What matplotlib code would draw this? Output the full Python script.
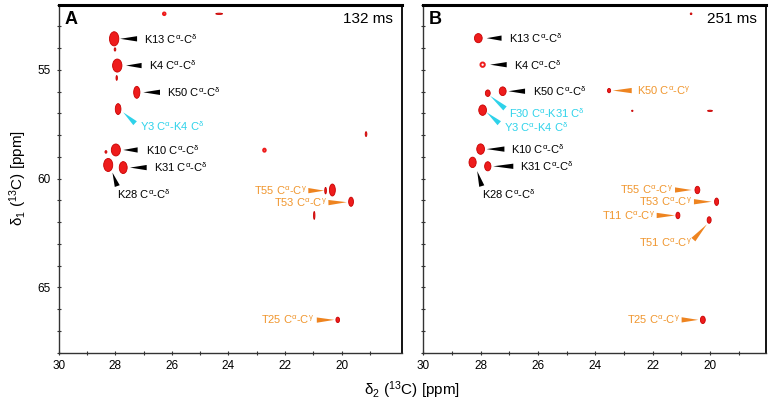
import numpy as np
import matplotlib
matplotlib.use("Agg")
import matplotlib.pyplot as plt
from matplotlib.patches import Ellipse
from matplotlib.ticker import MultipleLocator, FixedLocator

plt.rcParams['font.family'] = ['Liberation Sans', 'DejaVu Sans']
plt.rcParams['mathtext.fontset'] = 'custom'
plt.rcParams['mathtext.rm'] = 'Liberation Sans'
plt.rcParams['mathtext.it'] = 'Liberation Sans:italic'
plt.rcParams['mathtext.default'] = 'regular'

# --- peaks, panel A (132 ms): d2 [ppm], d1 [ppm], linewidths [ppm]
a_x = [28.04, 27.93, 27.24, 27.90, 27.98, 28.25, 27.72, 20.33, 19.67, 20.14,
       28.01, 27.95, 28.33, 26.27, 24.33, 22.73, 19.14, 20.57, 20.97]
a_y = [53.57, 54.80, 56.03, 56.80, 58.68, 59.37, 59.49, 60.52, 61.06, 66.49,
       54.06, 55.37, 58.77, 52.42, 52.42, 58.69, 57.95, 60.55, 61.69]
a_wx = [0.33, 0.33, 0.22, 0.20, 0.32, 0.32, 0.28, 0.21, 0.17, 0.13,
        0.06, 0.05, 0.07, 0.09, 0.24, 0.09, 0.06, 0.06, 0.05]
a_wy = [0.65, 0.60, 0.55, 0.50, 0.55, 0.60, 0.55, 0.55, 0.42, 0.25,
        0.15, 0.22, 0.12, 0.12, 0.06, 0.14, 0.22, 0.30, 0.36]
a_hollow = [13, 15]

# --- peaks, panel B (251 ms)
b_x = [28.08, 27.93, 27.23, 27.75, 27.93, 28.00, 28.28, 27.75, 23.52,
       20.44, 19.77, 21.12, 20.03, 20.25, 20.66, 22.71, 20.00]
b_y = [53.54, 54.76, 55.98, 56.07, 56.85, 58.64, 59.25, 59.43, 55.95,
       60.52, 61.06, 61.69, 61.90, 66.49, 52.42, 56.88, 56.88]
b_wx = [0.27, 0.15, 0.24, 0.17, 0.27, 0.27, 0.25, 0.22, 0.11,
        0.17, 0.14, 0.14, 0.14, 0.17, 0.06, 0.05, 0.17]
b_wy = [0.42, 0.20, 0.40, 0.30, 0.48, 0.48, 0.48, 0.42, 0.20,
        0.34, 0.34, 0.30, 0.30, 0.34, 0.08, 0.06, 0.06]
b_hollow = [1]  # K4 peak drawn as a ring

# --- labels: text, text pos, arrow tail, arrow head, colour key, alignment
a_labels = [
    ("K13 C$^{\\alpha}$-C$^{\\delta}$", 26.97, 53.57, 27.23, 53.57, 27.83, 53.57, "k", "left"),
    ("K4 C$^{\\alpha}$-C$^{\\delta}$", 26.82, 54.80, 27.07, 54.80, 27.62, 54.80, "k", "left"),
    ("K50 C$^{\\alpha}$-C$^{\\delta}$", 26.16, 56.03, 26.42, 56.03, 27.01, 56.03, "k", "left"),
    ("Y3 C$^{\\alpha}$-K4 C$^{\\delta}$", 27.13, 57.60, 27.30, 57.45, 27.72, 56.95, "c", "left"),
    ("K10 C$^{\\alpha}$-C$^{\\delta}$", 26.92, 58.68, 27.21, 58.68, 27.72, 58.68, "k", "left"),
    ("K31 C$^{\\alpha}$-C$^{\\delta}$", 26.62, 59.49, 26.89, 59.49, 27.48, 59.49, "k", "left"),
    ("K28 C$^{\\alpha}$-C$^{\\delta}$", 27.95, 60.69, 27.93, 60.34, 28.10, 59.72, "k", "left"),
    ("T55 C$^{\\alpha}$-C$^{\\gamma}$", 21.24, 60.55, 21.18, 60.55, 20.62, 60.55, "o", "right"),
    ("T53 C$^{\\alpha}$-C$^{\\gamma}$", 20.51, 61.10, 20.47, 61.10, 19.82, 61.08, "o", "right"),
    ("T25 C$^{\\alpha}$-C$^{\\gamma}$", 20.97, 66.50, 20.88, 66.50, 20.26, 66.49, "o", "right"),
]
b_labels = [
    ("K13 C$^{\\alpha}$-C$^{\\delta}$", 27.01, 53.54, 27.27, 53.54, 27.79, 53.54, "k", "left"),
    ("K4 C$^{\\alpha}$-C$^{\\delta}$", 26.84, 54.76, 27.09, 54.76, 27.67, 54.76, "k", "left"),
    ("K50 C$^{\\alpha}$-C$^{\\delta}$", 26.18, 55.98, 26.45, 55.98, 27.03, 55.98, "k", "left"),
    ("K50 C$^{\\alpha}$-C$^{\\gamma}$", 22.54, 55.95, 22.73, 55.95, 23.39, 55.95, "o", "left"),
    ("F30 C$^{\\alpha}$-K31 C$^{\\delta}$", 27.00, 56.98, 27.15, 56.77, 27.67, 56.19, "c", "left"),
    ("Y3 C$^{\\alpha}$-K4 C$^{\\delta}$", 27.19, 57.65, 27.35, 57.45, 27.79, 56.95, "c", "left"),
    ("K10 C$^{\\alpha}$-C$^{\\delta}$", 26.95, 58.64, 27.17, 58.64, 27.79, 58.64, "k", "left"),
    ("K31 C$^{\\alpha}$-C$^{\\delta}$", 26.63, 59.43, 26.86, 59.43, 27.56, 59.43, "k", "left"),
    ("K28 C$^{\\alpha}$-C$^{\\delta}$", 27.96, 60.69, 27.96, 60.34, 28.12, 59.65, "k", "left"),
    ("T55 C$^{\\alpha}$-C$^{\\gamma}$", 21.28, 60.52, 21.22, 60.52, 20.64, 60.52, "o", "right"),
    ("T53 C$^{\\alpha}$-C$^{\\gamma}$", 20.62, 61.06, 20.56, 61.06, 19.94, 61.06, "o", "right"),
    ("T11 C$^{\\alpha}$-C$^{\\gamma}$", 21.92, 61.69, 21.86, 61.69, 21.22, 61.69, "o", "right"),
    ("T51 C$^{\\alpha}$-C$^{\\gamma}$", 20.64, 62.95, 20.58, 62.80, 20.11, 62.10, "o", "right"),
    ("T25 C$^{\\alpha}$-C$^{\\gamma}$", 21.05, 66.49, 20.99, 66.49, 20.41, 66.49, "o", "right"),
]

text_col = {"k": "black", "c": "#2ed2ea", "o": "#f0962e"}
arrow_col = {"k": "black", "c": "#2ed2ea", "o": "#ee8420"}
peak_red = "#ee1c1c"

fig = plt.figure(figsize=(7.70, 4.01), dpi=100)
axA = fig.add_axes([0.0762, 0.1204, 0.4455, 0.868])
axB = fig.add_axes([0.5497, 0.1204, 0.445, 0.868])


def draw_panel(ax, px, py, wx, wy, labels, tag, mix, xmax, hollow=()):
    for i in range(len(px)):
        if i in hollow:
            e = Ellipse((px[i], py[i]), wx[i], wy[i], facecolor="white",
                        edgecolor=peak_red, lw=1.4, zorder=3)
        else:
            e = Ellipse((px[i], py[i]), wx[i], wy[i], facecolor=peak_red,
                        edgecolor="#c80000", lw=0.6, zorder=3)
        ax.add_patch(e)
    for txt, tx, ty, ax0, ay0, ax1, ay1, ck, ha in labels:
        ax.text(tx, ty, txt, color=text_col[ck], fontsize=8, ha=ha, va="center")
        ax.annotate("", xy=(ax1, ay1), xytext=(ax0, ay0),
                    arrowprops=dict(arrowstyle="wedge,tail_width=0.38,shrink_factor=0.5",
                                    color=arrow_col[ck], lw=0,
                                    shrinkA=0, shrinkB=0))
    ax.set_xlim(30, xmax)
    ax.set_ylim(68, 52)
    ax.xaxis.set_major_locator(FixedLocator([30, 28, 26, 24, 22, 20]))
    ax.xaxis.set_minor_locator(FixedLocator([29, 27, 25, 23, 21, 19]))
    ax.yaxis.set_major_locator(FixedLocator([55, 60, 65]))
    ax.yaxis.set_minor_locator(MultipleLocator(1))
    ax.tick_params(which="both", direction="inout", length=3, width=0.8,
                   color="#333333", labelsize=8.5, pad=4)
    for s in ax.spines.values():
        s.set_color("#333333")
        s.set_linewidth(1.0)
    ax.spines["top"].set_color("black")
    ax.spines["top"].set_linewidth(2.2)
    ax.spines["right"].set_color("black")
    ax.spines["right"].set_linewidth(1.3)
    ax.text(0.016, 0.958, tag, transform=ax.transAxes, fontsize=13,
            fontweight="bold", ha="left", va="center")
    ax.text(0.975, 0.958, mix, transform=ax.transAxes, fontsize=11,
            ha="right", va="center")


draw_panel(axA, a_x, a_y, a_wx, a_wy, a_labels, "A", "132 ms", 17.88,
           hollow=a_hollow)
draw_panel(axB, b_x, b_y, b_wx, b_wy, b_labels, "B", "251 ms", 18.05,
           hollow=b_hollow)
axB.tick_params(labelleft=False)

fig.text(0.535, 0.027, "δ$_2$ ($^{13}$C) [ppm]", fontsize=11,
         ha="center", va="center")
fig.text(0.024, 0.555, "δ$_1$ ($^{13}$C) [ppm]", fontsize=11,
         ha="center", va="center", rotation=90)

fig.savefig("out.png", dpi=100)
